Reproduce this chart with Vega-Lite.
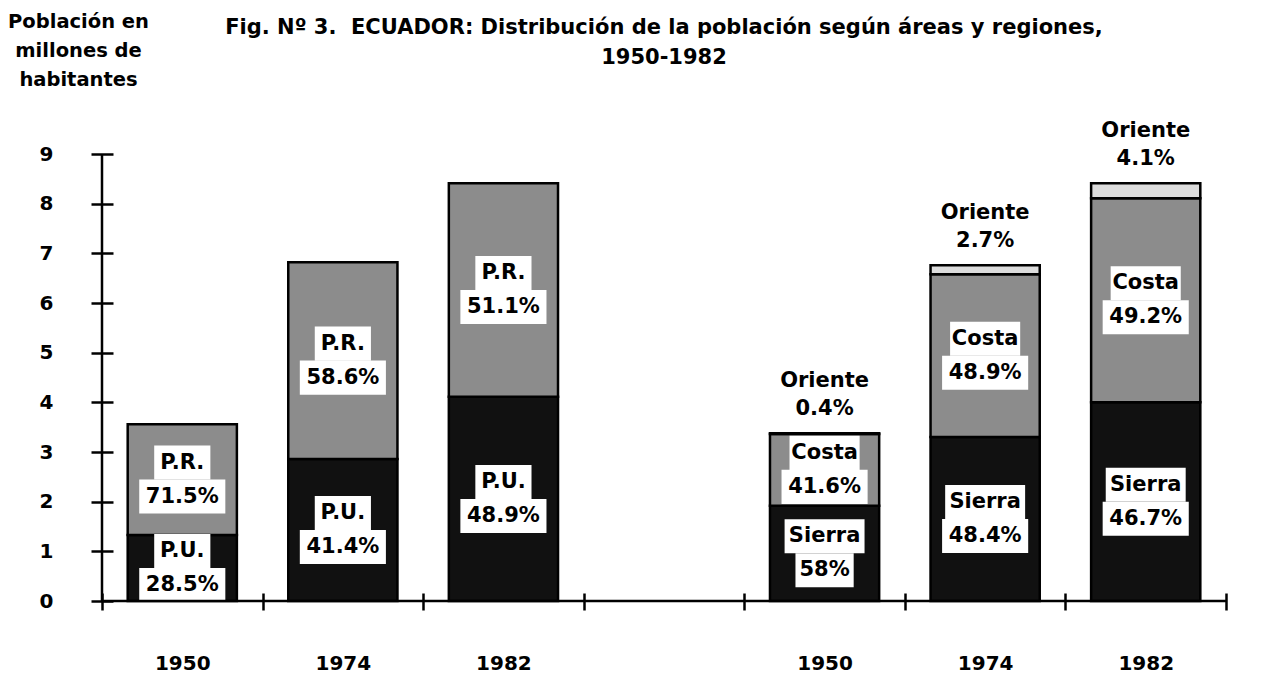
{
  "$schema": "https://vega.github.io/schema/vega-lite/v6.json",
  "width": 1124,
  "height": 447,
  "autosize": {"type": "none"},
  "padding": {"left": 102, "top": 154, "right": 35, "bottom": 81},
  "background": "white",
  "title": {
    "text": ["Fig. Nº 3.\u00a0 ECUADOR: Distribución de la población según áreas y regiones,", "1950-1982"],
    "font": "DejaVu Sans",
    "fontSize": 21,
    "fontWeight": "bold",
    "color": "black",
    "lineHeight": 30,
    "anchor": "middle",
    "offset": 0,
    "dy": 57
  },
  "datasets": {
    "pop": [
      {"x": "A1950", "cat": "P.U.", "v": 1.33, "pct": "28.5%", "ord": 1},
      {"x": "A1950", "cat": "P.R.", "v": 2.23, "pct": "71.5%", "ord": 2},
      {"x": "A1974", "cat": "P.U.", "v": 2.86, "pct": "41.4%", "ord": 1},
      {"x": "A1974", "cat": "P.R.", "v": 3.96, "pct": "58.6%", "ord": 2},
      {"x": "A1982", "cat": "P.U.", "v": 4.11, "pct": "48.9%", "ord": 1},
      {"x": "A1982", "cat": "P.R.", "v": 4.30, "pct": "51.1%", "ord": 2},
      {"x": "R1950", "cat": "Sierra", "v": 1.92, "pct": "58%", "ord": 1},
      {"x": "R1950", "cat": "Costa", "v": 1.44, "pct": "41.6%", "ord": 2},
      {"x": "R1950", "cat": "Oriente", "v": 0.02, "pct": "0.4%", "ord": 3},
      {"x": "R1974", "cat": "Sierra", "v": 3.30, "pct": "48.4%", "ord": 1},
      {"x": "R1974", "cat": "Costa", "v": 3.28, "pct": "48.9%", "ord": 2},
      {"x": "R1974", "cat": "Oriente", "v": 0.18, "pct": "2.7%", "ord": 3},
      {"x": "R1982", "cat": "Sierra", "v": 4.00, "pct": "46.7%", "ord": 1},
      {"x": "R1982", "cat": "Costa", "v": 4.11, "pct": "49.2%", "ord": 2},
      {"x": "R1982", "cat": "Oriente", "v": 0.30, "pct": "4.1%", "ord": 3}
    ],
    "one": [{}]
  },
  "layer": [
    {
      "data": {"name": "pop"},
      "transform": [
        {"stack": "v", "groupby": ["x"], "sort": [{"field": "ord", "order": "ascending"}], "as": ["v0", "v1"]},
        {"calculate": "datum.cat === 'Oriente' ? datum.v1 : (datum.v0 + datum.v1) / 2", "as": "ly"}
      ],
      "encoding": {
        "x": {
          "field": "x",
          "type": "nominal",
          "scale": {"domain": ["A1950", "A1974", "A1982", "gap", "R1950", "R1974", "R1982"], "paddingInner": 0, "paddingOuter": 0},
          "axis": {
            "title": null,
            "tickBand": "extent",
            "labelExpr": "isString(datum.value) && datum.value !== 'gap' ? substring(datum.value, 1) : ''",
            "labelAngle": 0,
            "labelFontSize": 20,
            "labelPadding": 43,
            "domain": false,
            "offset": -8,
            "tickSize": 17,
            "tickWidth": 2.5
          }
        }
      },
      "layer": [
        {
          "mark": {"type": "bar", "width": {"band": 0.68}, "stroke": "black", "strokeWidth": 2.5},
          "encoding": {
            "y": {
              "field": "v0",
              "type": "quantitative",
              "scale": {"domain": [0, 9], "nice": false},
              "axis": {
                "values": [0, 1, 2, 3, 4, 5, 6, 7, 8, 9],
                "title": ["Población en", "millones de", "habitantes"],
                "titleAngle": 0,
                "titleAlign": "center",
                "titleBaseline": "alphabetic",
                "titleX": -35,
                "titleY": -127,
                "titleLineHeight": 29,
                "titleFontSize": 19.5,
                "labelFontSize": 20,
                "labelPadding": 38,
                "domain": false,
                "offset": -11,
                "tickSize": 22,
                "tickWidth": 2.5
              }
            },
            "y2": {"field": "v1"},
            "color": {
              "field": "cat",
              "type": "nominal",
              "scale": {"domain": ["P.U.", "P.R.", "Sierra", "Costa", "Oriente"], "range": ["#111111", "#8c8c8c", "#111111", "#8c8c8c", "#dcdcdc"]},
              "legend": null
            }
          }
        },
        {
          "transform": [{"filter": "datum.cat !== 'Oriente' && length(datum.cat) <= 4"}],
          "mark": {"type": "point", "shape": "M-1.37,-0.83H1.37V0.83H-1.37Z", "filled": true, "fill": "white", "opacity": 1, "strokeWidth": 0, "size": 1681, "yOffset": -17},
          "encoding": {"y": {"field": "ly", "type": "quantitative"}}
        },
        {
          "transform": [{"filter": "length(datum.cat) === 5"}],
          "mark": {"type": "point", "shape": "M-1.71,-0.83H1.71V0.83H-1.71Z", "filled": true, "fill": "white", "opacity": 1, "strokeWidth": 0, "size": 1681, "yOffset": -17},
          "encoding": {"y": {"field": "ly", "type": "quantitative"}}
        },
        {
          "transform": [{"filter": "length(datum.cat) === 6"}],
          "mark": {"type": "point", "shape": "M-1.95,-0.83H1.95V0.83H-1.95Z", "filled": true, "fill": "white", "opacity": 1, "strokeWidth": 0, "size": 1681, "yOffset": -17},
          "encoding": {"y": {"field": "ly", "type": "quantitative"}}
        },
        {
          "transform": [{"filter": "datum.cat !== 'Oriente' && length(datum.pct) <= 3"}],
          "mark": {"type": "point", "shape": "M-1.42,-0.83H1.42V0.83H-1.42Z", "filled": true, "fill": "white", "opacity": 1, "strokeWidth": 0, "size": 1681, "yOffset": 17},
          "encoding": {"y": {"field": "ly", "type": "quantitative"}}
        },
        {
          "transform": [{"filter": "datum.cat !== 'Oriente' && length(datum.pct) > 3"}],
          "mark": {"type": "point", "shape": "M-2.1,-0.83H2.1V0.83H-2.1Z", "filled": true, "fill": "white", "opacity": 1, "strokeWidth": 0, "size": 1681, "yOffset": 17},
          "encoding": {"y": {"field": "ly", "type": "quantitative"}}
        },
        {
          "transform": [{"filter": "datum.cat !== 'Oriente'"}],
          "mark": {"type": "text", "font": "DejaVu Sans", "fontWeight": "bold", "fontSize": 21, "color": "black", "baseline": "middle", "dy": -17},
          "encoding": {
            "y": {"field": "ly", "type": "quantitative"},
            "text": {"field": "cat"}
          }
        },
        {
          "transform": [{"filter": "datum.cat !== 'Oriente'"}],
          "mark": {"type": "text", "font": "DejaVu Sans", "fontWeight": "bold", "fontSize": 21, "color": "black", "baseline": "middle", "dy": 17},
          "encoding": {
            "y": {"field": "ly", "type": "quantitative"},
            "text": {"field": "pct"}
          }
        },
        {
          "transform": [{"filter": "datum.cat === 'Oriente'"}],
          "mark": {"type": "text", "font": "DejaVu Sans", "fontWeight": "bold", "fontSize": 21, "color": "black", "baseline": "middle", "dy": -52},
          "encoding": {
            "y": {"field": "ly", "type": "quantitative"},
            "text": {"field": "cat"}
          }
        },
        {
          "transform": [{"filter": "datum.cat === 'Oriente'"}],
          "mark": {"type": "text", "font": "DejaVu Sans", "fontWeight": "bold", "fontSize": 21, "color": "black", "baseline": "middle", "dy": -24},
          "encoding": {
            "y": {"field": "ly", "type": "quantitative"},
            "text": {"field": "pct"}
          }
        }
      ]
    },
    {
      "data": {"name": "one"},
      "mark": {"type": "rule", "color": "black", "strokeWidth": 2.5},
      "encoding": {"y": {"datum": 0}}
    },
    {
      "data": {"name": "one"},
      "mark": {"type": "rule", "color": "black", "strokeWidth": 2.5},
      "encoding": {"x": {"datum": "A1950", "bandPosition": 0}}
    }
  ],
  "config": {
    "view": {"stroke": null},
    "font": "DejaVu Sans",
    "axis": {
      "grid": false,
      "domainColor": "black",
      "tickColor": "black",
      "labelColor": "black",
      "titleColor": "black",
      "labelFont": "DejaVu Sans",
      "labelFontWeight": "bold",
      "titleFont": "DejaVu Sans",
      "titleFontWeight": "bold"
    }
  }
}
